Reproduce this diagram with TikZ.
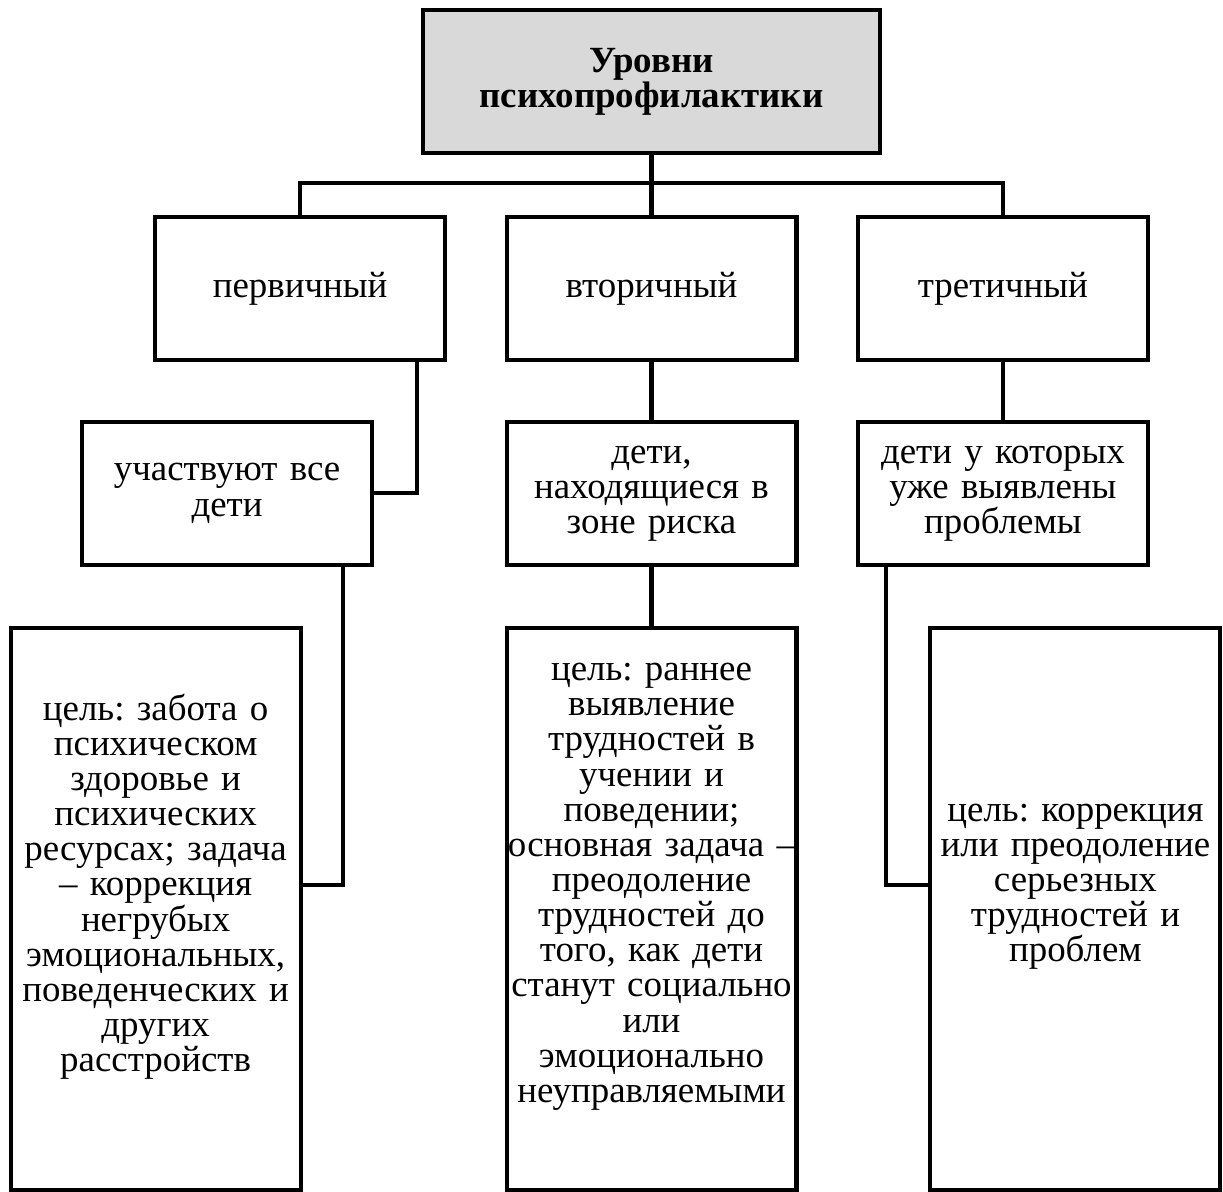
\documentclass[tikz,border=0pt]{standalone}
\usepackage{fontspec}
\setmainfont{Liberation Serif}
\usetikzlibrary{positioning}

\definecolor{headgray}{RGB}{217,217,217}

\begin{document}
\begin{tikzpicture}[
      x=0.02cm, y=-0.02cm,
      line width=2.3pt,
      box/.style={draw, align=center, text width=5.8cm, inner sep=0pt, outer sep=0pt, minimum height=2.86cm,
                  font=\fontsize{21}{20}\selectfont\frenchspacing},
      goalbox/.style={box, minimum height=11.24cm}]

    \useasboundingbox (0,0) rectangle (1223,1192);

    \node[box, fill=headgray, text width=9.14cm] (top) at (651.5,81.5) {\textbf{Уровни}\\ \textbf{психопрофилактики}};

    \node[box, below=1.28cm of top] (second) {вторичный};
    \node[box, left=1.23cm of second] (first) {первичный};
    \node[box, right=1.23cm of second] (third) {третичный};

    \node[box, below=1.24cm of first, xshift=-1.46cm] (allkids) {участвуют все\\ дети};
    \node[box, below=1.24cm of second] (risk) {дети,\\ находящиеся в\\ зоне риска};
    \node[box, below=1.24cm of third] (problems) {дети у которых\\ уже выявлены\\ проблемы};

    \node[goalbox, below=1.26cm of allkids, xshift=-1.43cm] (goalone) {цель: забота о\\ психическом\\ здоровье и\\ психических\\ ресурсах; задача\\ -- коррекция\\ негрубых\\ эмоциональных,\\ поведенческих и\\ других\\ расстройств\\[0.34cm] \mbox{}};
    \node[goalbox, below=1.26cm of risk] (goaltwo) {цель: раннее\\ выявление\\ трудностей в\\ учении и\\ поведении;\\ \mbox{основная задача --}\\ преодоление\\ трудностей до\\ того, как дети\\ \mbox{станут социально}\\ или\\ эмоционально\\ неуправляемыми\\[0.34cm] \mbox{}};
    \node[goalbox, below=1.26cm of problems, xshift=1.45cm] (goalthree) {цель: коррекция\\ или преодоление\\ серьезных\\ трудностей и\\ проблем\\[0.34cm] \mbox{}};

    % levels
    \coordinate[below=0.6cm of top] (bus);
    \draw (top) -- (bus);
    \draw (first.north) |- (bus) -| (third.north);
    \draw (bus) -- (second);

    % who takes part
    \draw ([xshift=-5.7mm]first.south east) |- (allkids);
    \draw (second) -- (risk);
    \draw (third) -- (problems);

    % goals
    \draw ([xshift=-5.9mm]allkids.south east) |- ([yshift=4.8mm]goalone.east);
    \draw (risk) -- (goaltwo);
    \draw ([xshift=5.7mm]problems.south west) |- ([yshift=4.8mm]goalthree.west);
  \end{tikzpicture}
\end{document}
